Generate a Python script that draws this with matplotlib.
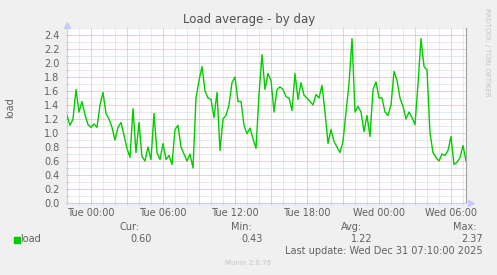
import numpy as np
import pandas as pd
import matplotlib
matplotlib.use('Agg')
import matplotlib.pyplot as plt
import matplotlib.dates as mdates
from matplotlib.ticker import MultipleLocator, FuncFormatter

# load average, one sample every 15 minutes, starting Mon 29 Dec 22:00
start = '2025-12-29 22:00'
load = [1.25, 1.11, 1.20, 1.62, 1.30, 1.45, 1.26, 1.12, 1.08, 1.13,
        1.08, 1.40, 1.58, 1.28, 1.20, 1.08, 0.90, 1.08, 1.15, 0.97,
        0.78, 0.65, 1.35, 0.72, 1.15, 0.66, 0.60, 0.80, 0.62, 1.28,
        0.72, 0.62, 0.85, 0.62, 0.68, 0.55, 1.05, 1.11, 0.80, 0.70,
        0.60, 0.70, 0.50, 1.50, 1.75, 1.95, 1.60, 1.50, 1.48, 1.22,
        1.58, 0.75, 1.20, 1.25, 1.40, 1.72, 1.80, 1.45, 1.45, 1.11,
        0.99, 1.07, 0.92, 0.78, 1.55, 2.12, 1.62, 1.85, 1.75, 1.30,
        1.62, 1.66, 1.62, 1.52, 1.50, 1.32, 1.85, 1.48, 1.72, 1.54,
        1.50, 1.45, 1.40, 1.55, 1.50, 1.68, 1.30, 0.85, 1.05, 0.88,
        0.80, 0.72, 0.88, 1.30, 1.70, 2.35, 1.30, 1.38, 1.30, 1.02,
        1.25, 0.95, 1.62, 1.73, 1.50, 1.50, 1.30, 1.25, 1.40, 1.88,
        1.75, 1.50, 1.38, 1.20, 1.30, 1.22, 1.12, 1.70, 2.35, 1.95,
        1.90, 1.00, 0.72, 0.65, 0.60, 0.70, 0.68, 0.75, 0.95, 0.55,
        0.58, 0.65, 0.82, 0.60]
times = pd.date_range(start, periods=len(load), freq='15min')

legend_heads = ['Cur:', 'Min:', 'Avg:', 'Max:']
legend_vals = ['0.60', '0.43', '1.22', '2.37']
last_update = 'Last update: Wed Dec 31 07:10:00 2025'

W, H = 497, 275
fig = plt.figure(figsize=(W / 100, H / 100), dpi=100, facecolor='#F0F0F0')
ax = fig.add_axes([67 / W, 1 - 203 / H, (466 - 67) / W, (203 - 28) / H])
ax.set_facecolor('white')

ax.plot(times, load, color='#00CC00', lw=1.0, zorder=3)

ax.set_xlim(times[0], times[-1])
ax.set_ylim(0, 2.5)

# grid: red dotted every 3 h / 0.2, grey dotted every hour / 0.1
ax.xaxis.set_major_locator(mdates.HourLocator(byhour=range(0, 24, 3)))
ax.xaxis.set_minor_locator(mdates.HourLocator())


def xfmt(x, pos):
    d = mdates.num2date(x)
    return d.strftime('%a %H:%M') if d.hour % 6 == 0 else ''


ax.xaxis.set_major_formatter(FuncFormatter(xfmt))
ax.yaxis.set_major_locator(MultipleLocator(0.2))
ax.yaxis.set_minor_locator(MultipleLocator(0.1))
ax.yaxis.set_major_formatter(FuncFormatter(lambda v, p: '%.1f' % v))

dots = (0, (1, 1))
ax.grid(which='major', color='#E6A0A0', linestyle=dots, lw=0.72)
ax.grid(which='minor', color='#D4D4D4', linestyle=dots, lw=0.72)
ax.set_axisbelow(True)

ax.tick_params(which='major', length=2, width=0.72, direction='inout',
               color='#E08080', labelsize=7, labelcolor='#606060')
ax.tick_params(which='minor', length=2, width=0.72, direction='inout',
               color='#B0B0B0')
ax.tick_params(axis='y', pad=4.5)
ax.tick_params(axis='x', pad=2.5)

for s in ['top']:
    ax.spines[s].set_visible(False)
ax.spines['left'].set_color('#C8CCF4')
ax.spines['bottom'].set_color('#C8CCF4')
ax.spines['right'].set_color('#A0A0A0')
for s in ['left', 'bottom', 'right']:
    ax.spines[s].set_linewidth(0.8)

# axis arrows
ax.plot([0], [1.02], marker='^', ms=4, color='#C8CCF4', transform=ax.transAxes, clip_on=False)
ax.plot([1.012], [0], marker='>', ms=4, color='#C8CCF4', transform=ax.transAxes, clip_on=False)


def ftext(x, y, s, **kw):
    fig.text(x / W, 1 - y / H, s, **kw)


ftext(249, 20, 'Load average - by day', ha='center', va='center', fontsize=8.5, color='#505050')
ftext(10, 108, 'load', ha='center', va='center', rotation=90, fontsize=7, color='#606060')
ftext(487, 52, 'RRDTOOL / TOBI OETIKER', ha='center', va='center', rotation=270,
      fontsize=5, color='#C4C4C4')

head_x = [139.5, 251.5, 362.5, 476.5]
val_x = [152, 262.5, 372.5, 482.5]
for hx, vx, h, v in zip(head_x, val_x, legend_heads, legend_vals):
    ftext(hx, 227, h, ha='right', va='center', fontsize=7, color='#606060')
    ftext(vx, 239.5, v, ha='right', va='center', fontsize=7, color='#606060')

fig.patches.append(plt.Rectangle((14 / W, 1 - 242.5 / H), 5.5 / W, 5.5 / H,
                                 transform=fig.transFigure, color='#00CC00'))
ftext(20, 239.5, 'load', ha='left', va='center', fontsize=7, color='#606060')
ftext(482.5, 251.5, last_update, ha='right', va='center', fontsize=7, color='#606060')
ftext(248.5, 263, 'Munin 2.0.76', ha='center', va='center', fontsize=5, color='#C4C4C4')

fig.savefig('out.png', dpi=100, facecolor=fig.get_facecolor())
